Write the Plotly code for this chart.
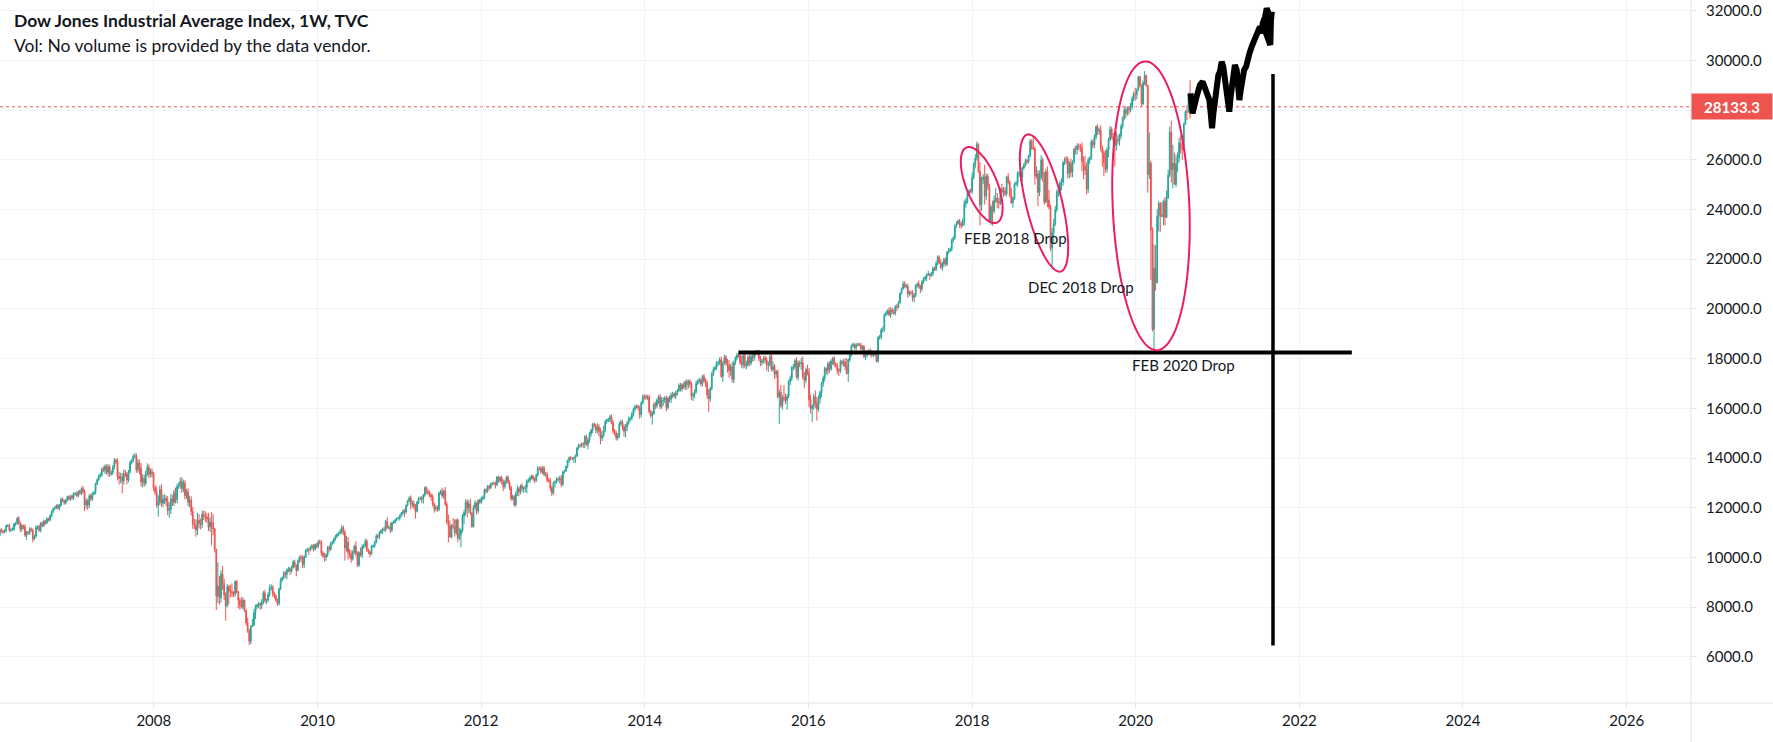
import math
import datetime as dt
import plotly.graph_objects as go

# ---------------- data (weekly DJI) ----------------
first_open = 10718

c2006 = [10959,10960,10667,10907,10793,10919,11115,11062,11022,11076,11279,11280,11109,
         11120,11137,11347,11367,11577,11380,11144,11278,11247,10891,11015,10989,11150,
         11090,10739,10868,11219,11240,11088,11381,11284,11464,11393,11560,11508,11679,
         11850,11960,12002,12090,11986,12108,12342,12280,12194,12307,12445,12343,12463]
u2006 = [60,45,70,50,80,40,55,60,45,70,35,60,80,
         50,70,45,60,40,90,55,70,40,85,60,50,70,
         55,80,45,60,50,75,40,55,65,40,50,45,60,
         50,40,55,45,60,40,50,70,45,55,40,50,45]
d2006 = [70,80,110,60,90,50,70,60,80,50,70,60,90,
         80,60,70,90,60,70,130,110,120,70,180,90,80,
         60,130,50,80,100,60,90,70,60,80,50,60,70,
         60,80,50,60,70,90,60,50,80,60,70,50,60]

c2007 = [12398,12556,12566,12487,12653,12580,12768,12647,12114,12276,12110,12481,12354,
         12560,12612,12961,13120,13265,13326,13556,13507,13668,13424,13639,13361,13408,
         13611,13908,13851,13265,13182,13240,13079,13379,13358,13113,13443,13821,13896,
         14066,14093,13522,13807,13596,13043,13177,12981,13372,13626,13340,13451,13366,
         12800]
u2007 = [80,70,60,90,50,80,60,120,90,110,80,70,90,
         60,70,50,60,70,80,60,110,70,80,120,90,100,
         110,90,70,130,180,160,150,160,140,90,80,90,60,
         80,110,90,150,130,200,170,150,130,160,110,120,140,
         60]
d2007 = [90,80,70,60,70,60,80,90,250,150,200,120,90,
         80,60,70,60,50,70,80,60,150,90,160,120,80,
         90,70,100,160,250,200,500,150,120,180,90,70,80,
         90,80,120,110,250,180,220,140,90,110,150,120,150,
         120]

c2008 = [12606,12099,12207,12743,12183,12348,12381,12266,11894,11951,12361,12216,12610,
         12325,12849,12892,13058,12745,12986,12480,12638,12209,12307,11843,11347,11288,
         11100,11496,11370,11326,11734,11659,11628,11543,11220,11421,11388,11143,10325,
         8451,8852,8378,9325,8943,8497,8046,8829,8635,8629,8579,8515,9034]
u2008 = [100,250,300,150,200,180,150,120,200,250,200,150,120,
         200,120,120,150,180,150,120,120,150,180,150,180,200,
         250,300,250,200,150,150,200,150,250,200,400,350,50,
         30,950,400,150,330,200,100,100,50,270,320,60,30]
d2008 = [100,100,465,100,150,150,200,200,200,300,200,150,150,
         150,150,100,120,150,120,150,120,150,200,150,200,150,
         270,200,200,200,150,150,200,150,150,200,900,250,125,
         570,300,280,200,250,215,600,50,515,230,180,115,95]

c2009 = [8600,8281,8077,8001,8280,7850,7366,7063,6627,7224,7279,7776,8018,
         8083,8131,8076,8212,8575,8268,8277,8500,8764,8799,8539,8438,8280,
         8147,8743,9093,9172,9370,9321,9505,9544,9441,9605,9820,9665,9488,
         9865,9995,9972,9713,10023,10270,10318,10310,10389,10471,10329,10520,10428]
u2009 = [55,50,80,320,120,20,50,200,60,50,250,150,80,
         60,80,70,120,80,120,60,100,150,120,80,90,90,
         60,40,80,60,80,70,60,80,60,70,80,90,60,
         60,70,120,100,60,60,70,80,80,60,60,40,60]
d2009 = [40,330,180,60,100,50,100,100,157,110,30,50,250,
         100,120,200,150,100,100,150,80,80,100,120,100,80,
         100,80,60,80,60,150,200,100,150,60,60,80,250,
         60,80,150,130,150,50,60,210,70,80,90,50,60]

c2010 = [10618,10610,10172,10067,10012,10099,10402,10325,10567,10625,10742,10851,10927,
         10998,11019,11204,11009,10380,10620,10193,10137,9931,10212,10450,10144,9686,
         10198,10097,10425,10466,10654,10303,10214,10151,10448,10463,10607,10860,10830,
         11006,11063,11133,11118,11444,11193,11204,11092,11382,11410,11492,11573,11578]
u2010 = [70,110,80,80,120,70,60,90,60,50,70,60,40,
         40,120,90,80,100,250,200,150,150,80,60,200,100,
         50,200,100,80,100,80,60,60,60,60,60,80,80,
         50,80,60,100,70,170,90,200,60,70,60,40,50]
d2010 = [60,80,120,100,180,150,80,120,60,60,80,60,70,
         60,80,80,120,510,150,280,150,150,60,80,100,72,
         60,80,120,80,60,80,80,150,60,60,80,40,80,
         100,60,120,80,90,50,60,120,70,40,50,40,40]

c2011 = [11674,11787,11871,11823,12092,12273,12391,12130,12169,12044,11858,12220,12377,
         12380,12342,12505,12811,12638,12596,12512,12441,12151,11952,12004,11934,12582,
         12657,12480,12681,12143,11445,11269,10818,11285,11240,10992,11509,10771,10913,
         11103,11645,11809,12231,11983,12153,11796,11231,12019,12184,11867,12294,12218]
u2011 = [60,40,60,80,40,40,70,100,130,120,100,50,60,
         70,80,50,40,50,100,90,60,100,60,100,80,60,
         70,150,50,150,100,280,230,60,300,300,30,70,290,
         60,100,120,100,100,150,200,10,80,120,50,50,70]
d2011 = [100,50,80,200,70,50,60,200,120,110,300,50,80,
         80,150,180,70,80,80,100,150,100,150,90,100,80,
         60,90,120,80,100,665,20,60,100,150,100,170,70,
         509,100,300,120,380,200,100,30,30,100,150,100,80]

c2012 = [12360,12422,12720,12660,12862,12801,12950,12983,12978,12922,13233,13081,13212,
         13060,12850,13029,13228,13038,12821,12369,12454,12119,12554,12767,12640,12880,
         12772,12777,12822,13075,13096,13207,13275,13157,13090,13306,13593,13579,13437,
         13610,13328,13343,13107,13093,12815,12588,13010,13026,13155,13135,13190,12938,
         13435]
u2012 = [80,60,50,60,50,70,60,50,60,80,50,60,50,
         70,80,100,60,70,60,60,80,60,100,130,70,60,
         100,80,110,70,80,60,60,50,60,70,80,60,90,
         60,70,90,100,100,90,70,50,90,80,70,100,130,
         50]
d2012 = [60,70,80,90,60,100,50,60,80,150,60,80,70,
         120,180,90,70,80,120,100,80,70,80,90,180,100,
         120,180,150,250,70,90,70,80,100,70,60,80,70,
         80,60,80,90,80,150,120,60,200,60,80,150,110,
         60]

c2013 = [13488,13650,13896,14009,13993,13982,14001,14090,14397,14515,14512,14579,14565,
         14865,14548,14712,14974,15118,15354,15303,15116,15248,15070,14800,14910,15136,
         15464,15544,15559,15658,15425,15081,15010,14810,14922,15376,15452,15258,15073,
         15237,15400,15570,15615,15762,15962,16065,16086,16020,15755,16221,16479,16469]
u2013 = [40,60,40,50,70,50,50,60,40,60,50,40,60,
         50,80,90,80,60,60,80,80,150,110,150,180,150,
         70,40,50,80,100,110,90,80,90,80,100,80,100,
         130,90,100,50,100,70,90,60,70,80,60,80,80]
d2013 = [60,50,60,100,90,70,180,200,50,60,100,80,160,
         170,70,200,100,120,120,80,120,130,180,250,120,80,
         110,90,100,120,70,100,120,110,100,120,60,140,200,
         250,150,60,90,100,100,100,70,100,170,130,60,120]

c2014 = [16437,16458,15880,15699,15794,16154,16104,16322,16453,16066,16303,16323,16413,
         16027,16409,16361,16513,16584,16492,16606,16717,16924,16776,16948,16852,17068,
         16944,17100,16961,16493,16554,16663,17001,17098,17138,16988,17280,17113,17010,
         16544,16380,16805,17391,17573,17635,17810,17828,17959,17281,17804,18053,17833]
u2014 = [100,80,90,60,90,80,120,70,80,120,160,120,80,
         100,60,100,120,80,60,90,60,80,100,60,100,60,
         100,60,60,100,80,100,110,70,90,70,60,110,100,
         120,230,60,80,80,80,90,70,90,120,100,100,90]
d2014 = [110,90,90,70,360,60,140,100,140,100,80,200,120,
         150,80,120,150,100,80,120,80,60,100,100,70,120,
         200,150,120,150,200,150,70,70,100,110,120,90,150,
         150,525,120,80,90,80,80,120,80,50,215,50,120]

c2015 = [17737,17511,17672,17165,17824,18019,18140,18133,17856,17749,18128,17712,17763,
         18058,17826,18080,18024,18191,18272,18232,18011,17849,17898,18015,17947,17730,
         17760,18086,17568,17690,17373,17477,16460,16643,16102,16433,16385,16315,16472,
         17084,17216,17647,17664,17910,17245,17824,17798,17848,17265,17128,17553,17425]
u2015 = [150,200,120,200,100,80,80,90,100,250,120,200,150,
         70,100,100,150,110,80,80,120,100,80,90,110,120,
         130,60,120,200,90,70,80,120,300,100,500,200,100,
         50,100,60,120,70,150,110,90,180,250,200,80,200]
d2015 = [300,280,200,120,150,80,90,100,100,120,150,100,150,
         100,120,100,150,120,100,80,100,150,120,90,150,200,
         265,80,90,80,200,150,60,1090,80,150,120,150,370,
         60,150,120,120,100,60,130,150,250,100,320,120,100]

c2016 = [16347,15988,16094,16466,16205,15974,16392,16640,17007,17213,17602,17516,17793,
         17577,17897,18004,17774,17740,17535,17501,17873,17807,17865,17675,17400,17949,
         18147,18517,18571,18432,18543,18576,18552,18395,18492,18085,18124,18262,18308,
         18240,18138,18146,18161,17889,18848,18868,19152,19171,19757,19843,19934,19763]
u2016 = [200,200,60,120,250,250,120,80,60,100,80,50,70,
         100,70,60,100,70,90,80,90,70,120,140,340,50,
         50,50,80,40,80,60,60,80,60,60,90,80,60,
         100,100,80,60,180,60,90,80,120,60,70,50,130]
d2016 = [300,200,538,150,200,471,100,200,200,150,140,140,180,
         150,70,150,100,100,160,200,80,100,120,130,40,337,
         80,60,60,60,100,50,60,60,80,60,150,80,120,
         150,100,80,60,40,60,80,100,100,100,60,80,60]

c2017 = [19964,19886,19827,20094,20071,20269,20624,20822,21005,20902,20914,20596,20663,
         20656,20453,20548,20940,21006,20896,20804,21080,21206,21271,21384,21395,21350,
         21414,21638,21580,21830,22092,21858,21675,21814,21988,21798,22268,22350,22405,
         22774,22871,23329,23434,23539,23422,23358,23558,24231,24329,24652,24754,24719]
u2017 = [100,90,120,60,100,50,40,40,110,100,100,100,70,
         80,100,90,60,60,140,80,80,70,60,50,140,60,
         80,80,60,90,60,60,130,80,70,80,70,100,70,
         60,50,70,90,60,80,80,70,150,140,80,60,90]
d2017 = [120,90,60,90,150,60,60,50,60,80,70,150,90,
         90,150,200,80,80,90,180,100,70,80,150,60,180,
         60,90,60,60,80,60,70,140,140,60,80,60,60,
         90,100,100,60,50,160,130,60,200,160,90,120,60]

c2018 = [25296,25803,26072,26617,25521,24191,25219,25310,24538,25336,24946,23533,24103,
         23933,24360,24463,24311,24263,24831,24715,24753,24635,25317,25090,24581,24271,
         24456,25019,25058,25451,25463,25313,25669,25790,25965,25917,26154,26744,26458,
         26447,25340,25444,24688,25270,25989,25413,24286,25538,24389,24101,22445,23062,
         23433]
u2018 = [200,100,150,120,60,380,100,120,490,100,114,100,100,
         250,200,400,200,150,50,200,150,150,40,150,80,280,
         50,60,100,100,60,100,60,80,80,80,50,100,80,
         493,100,300,150,300,200,100,100,100,200,400,100,200,
         200]
d2018 = [100,80,150,100,60,831,250,200,340,150,150,80,150,
         590,100,100,250,230,80,100,200,100,100,80,100,50,
         200,60,70,150,140,180,200,60,60,100,60,60,60,
         60,340,100,566,150,80,300,100,10,300,100,120,732,
         424]

c2019 = [23996,24706,24737,25064,25106,25883,26031,26026,25450,25849,25502,25929,26425,
         26412,26559,26543,26505,25942,25764,25586,24815,25984,26090,26719,26600,26922,
         27332,27154,27192,26485,26287,25886,25629,26403,26797,27220,26935,26820,26573,
         26817,26770,26958,27347,27681,28005,27876,28051,28015,28135,28455,28645,28635]
u2019 = [150,100,200,100,150,60,70,120,100,100,200,50,70,
         150,100,100,100,200,200,400,300,100,50,100,100,100,
         50,100,100,200,100,100,500,100,100,150,100,150,300,
         300,200,100,100,60,100,150,100,100,150,100,100,250]
d2019 = [100,100,200,120,300,150,100,200,200,200,200,200,100,
         200,200,150,200,400,540,200,200,150,150,100,150,120,
         100,150,150,150,570,546,150,150,300,50,100,150,830,
         200,150,200,100,100,100,200,100,200,100,100,100,250]

c2020 = [28824,29348,28990,28256,29103,29398,28992,25409,25865,23186,19174,21637,21053,
         23719,24242,23775,23724,24331,23685,24465,25383,27111,25606,25871,25016,25827,
         26075,26672,26470,26428,27433,27931,27930,28654,28133]
u2020 = [48,25,26,50,83,170,20,10,1237,100,100,958,924,
         289,100,50,520,70,170,300,217,227,469,740,419,373,
         216,208,328,180,67,69,269,46,545]
d2020 = [200,50,90,87,60,100,50,728,183,2032,80,961,318,
         20,600,675,30,363,325,30,35,83,524,763,20,116,
         327,175,210,428,30,33,330,30,469]

week_starts = ['2006-01-02', '2007-01-01', '2008-01-07', '2009-01-05', '2010-01-04',
               '2011-01-03', '2012-01-02', '2013-01-07', '2014-01-06', '2015-01-05',
               '2016-01-04', '2017-01-02', '2018-01-01', '2019-01-07', '2020-01-06']

last_price = 28133.3

# hand drawn projection (brush) - dates and index values
draw_dates = ['2020-09-02', '2020-09-11', '2020-09-29', '2020-10-14', '2020-10-26',
              '2020-11-05', '2020-11-16', '2020-11-25', '2020-12-01', '2020-12-07',
              '2020-12-13', '2020-12-20', '2020-12-28', '2021-01-04', '2021-01-11',
              '2021-01-19', '2021-01-26', '2021-02-04', '2021-02-10', '2021-02-18',
              '2021-02-22', '2021-02-28', '2021-03-06', '2021-03-12', '2021-03-19',
              '2021-03-27', '2021-04-02', '2021-04-08', '2021-04-14', '2021-04-20',
              '2021-04-29', '2021-05-08', '2021-05-14', '2021-05-23', '2021-06-02',
              '2021-06-12', '2021-06-21', '2021-07-02', '2021-07-09', '2021-07-17',
              '2021-07-21', '2021-08-01', '2021-08-08', '2021-08-16', '2021-08-11',
              '2021-08-05', '2021-08-16', '2021-08-24', '2021-08-27', '2021-08-31']
draw_values = [28675, 27870, 28541, 29010, 29144,
               28876, 28541, 28406, 27870, 27267,
               27870, 28406, 29077, 29412, 29547,
               29949, 29748, 29211, 28809, 28406,
               27937, 28541, 29077, 29614, 29815,
               29614, 29077, 28406, 28809, 29211,
               29614, 29748, 30016, 30285, 30553,
               30754, 30955, 31156, 31357, 31089,
               31492, 31760, 32095, 31894, 31357,
               31089, 30821, 30620, 31626, 31961]

hline_dates = ['2015-02-23', '2022-08-23']
hline_value = 18243
vline_date = '2021-09-05'
vline_values = [6457, 29454]

notes = ['FEB 2018 Drop', 'DEC 2018 Drop', 'FEB 2020 Drop']
note_dates = ['2018-07-15', '2019-05-01', '2020-07-31']
note_values = [22869, 20898, 17748]

# ---------------- build candles ----------------
series = [c2006, c2007, c2008, c2009, c2010, c2011, c2012, c2013, c2014, c2015,
          c2016, c2017, c2018, c2019, c2020]
ups = [u2006, u2007, u2008, u2009, u2010, u2011, u2012, u2013, u2014, u2015,
       u2016, u2017, u2018, u2019, u2020]
dns = [d2006, d2007, d2008, d2009, d2010, d2011, d2012, d2013, d2014, d2015,
       d2016, d2017, d2018, d2019, d2020]

dates, o, h, l, c = [], [], [], [], []
prev = first_open
for start, cs, us, ds in zip(week_starts, series, ups, dns):
    assert len(cs) == len(us) == len(ds), (start, len(cs), len(us), len(ds))
    s = dt.date.fromisoformat(start)
    for i, (cl, up, dn) in enumerate(zip(cs, us, ds)):
        dates.append((s + dt.timedelta(days=7 * i)).isoformat())
        o.append(prev)
        c.append(cl)
        h.append(max(prev, cl) + up)
        l.append(min(prev, cl) - dn)
        prev = cl

GREEN = '#26A69A'
RED = '#EF5350'
TEXT = '#131722'
GRID = '#F0F3FA'
BORDER = '#E0E3EB'
PINK = '#E91E63'
FONT = 'Lato'

W, H = 1773, 742
PW, PH = 1691, 703  # plot area in px

fig = go.Figure()
fig.add_trace(go.Candlestick(
    x=dates, open=o, high=h, low=l, close=c,
    increasing=dict(line=dict(color=GREEN, width=1), fillcolor=GREEN),
    decreasing=dict(line=dict(color=RED, width=1), fillcolor=RED),
    whiskerwidth=0, showlegend=False, hoverinfo='skip'))

fig.add_trace(go.Scatter(x=hline_dates, y=[hline_value, hline_value], mode='lines',
                         line=dict(color='black', width=4), showlegend=False, hoverinfo='skip'))
fig.add_trace(go.Scatter(x=[vline_date, vline_date], y=vline_values, mode='lines',
                         line=dict(color='black', width=3.5), showlegend=False, hoverinfo='skip'))
fig.add_trace(go.Scatter(x=draw_dates, y=draw_values, mode='lines',
                         line=dict(color='black', width=6), showlegend=False, hoverinfo='skip'))

shapes = []
# last price dotted line
shapes.append(dict(type='line', xref='paper', yref='y', x0=0, x1=1, y0=last_price, y1=last_price,
                   line=dict(color=RED, width=1, dash='dot'), layer='below'))
# frame separators
shapes.append(dict(type='line', xref='paper', yref='paper', x0=0, x1=W / PW, y0=0, y1=0,
                   line=dict(color=BORDER, width=1)))
shapes.append(dict(type='line', xref='paper', yref='paper', x0=1, x1=1, y0=-(H - PH) / PH, y1=1,
                   line=dict(color=BORDER, width=1)))


def ellipse(cx, cy, a, b, phi_deg, n=120):
    phi = math.radians(phi_deg)
    ux, uy = math.sin(phi), math.cos(phi)
    vx, vy = math.cos(phi), -math.sin(phi)
    pts = []
    for k in range(n):
        t = 2 * math.pi * k / n
        px = cx + a * math.cos(t) * ux + b * math.sin(t) * vx
        py = cy + a * math.cos(t) * uy + b * math.sin(t) * vy
        pts.append('%.5f,%.5f' % (px / PW, 1 - py / PH))
    return 'M ' + ' L '.join(pts) + ' Z'


for (cx, cy, a, b, ph) in [(981.7, 185, 40.5, 15.5, 22), (1044, 203, 70.5, 18, 13.7),
                           (1151, 205.8, 144.5, 38.3, 2.4)]:
    shapes.append(dict(type='path', xref='paper', yref='paper', path=ellipse(cx, cy, a, b, ph),
                       line=dict(color=PINK, width=2)))

annotations = []
for t, d, v in zip(notes, note_dates, note_values):
    annotations.append(dict(x=d, y=v, xref='x', yref='y', text=t, showarrow=False,
                            font=dict(family=FONT, size=15, color=TEXT)))
annotations.append(dict(x=12 / PW, y=1 - 21 / PH, xref='paper', yref='paper', xanchor='left',
                        yanchor='middle', showarrow=False,
                        text='<b>Dow Jones Industrial Average Index, 1W, TVC</b>',
                        font=dict(family=FONT, size=17.5, color=TEXT)))
annotations.append(dict(x=12 / PW, y=1 - 46 / PH, xref='paper', yref='paper', xanchor='left',
                        yanchor='middle', showarrow=False,
                        text='Vol: No volume is provided by the data vendor.',
                        font=dict(family=FONT, size=17.5, color=TEXT)))
annotations.append(dict(x=1, y=last_price, xref='paper', yref='y', xanchor='left', yanchor='middle',
                        showarrow=False, text='<b>%.1f</b>' % last_price, bgcolor=RED,
                        font=dict(family=FONT, size=15, color='white'),
                        width=74, height=19, borderpad=3, align='center'))

fig.update_layout(
    width=W, height=H, margin=dict(l=0, r=W - PW, t=0, b=H - PH),
    paper_bgcolor='white', plot_bgcolor='white', showlegend=False,
    shapes=shapes, annotations=annotations,
    xaxis=dict(type='date', range=['2006-02-13 10:00', '2026-10-15'], rangeslider=dict(visible=False),
               tick0='2008-01-01', dtick='M24', tickformat='%Y', showgrid=True, gridcolor=GRID,
               ticks='outside', ticklen=4, tickcolor=BORDER, showline=False, zeroline=False,
               tickfont=dict(family=FONT, size=15, color=TEXT)),
    yaxis=dict(side='right', range=[4141, 32431], tick0=0, dtick=2000, tickformat='.1f',
               showgrid=True, gridcolor=GRID, ticks='outside', ticklen=5, tickcolor=BORDER,
               showline=False, zeroline=False, ticklabelstandoff=6,
               tickfont=dict(family=FONT, size=15, color=TEXT)),
)

fig.write_html('out.html')
